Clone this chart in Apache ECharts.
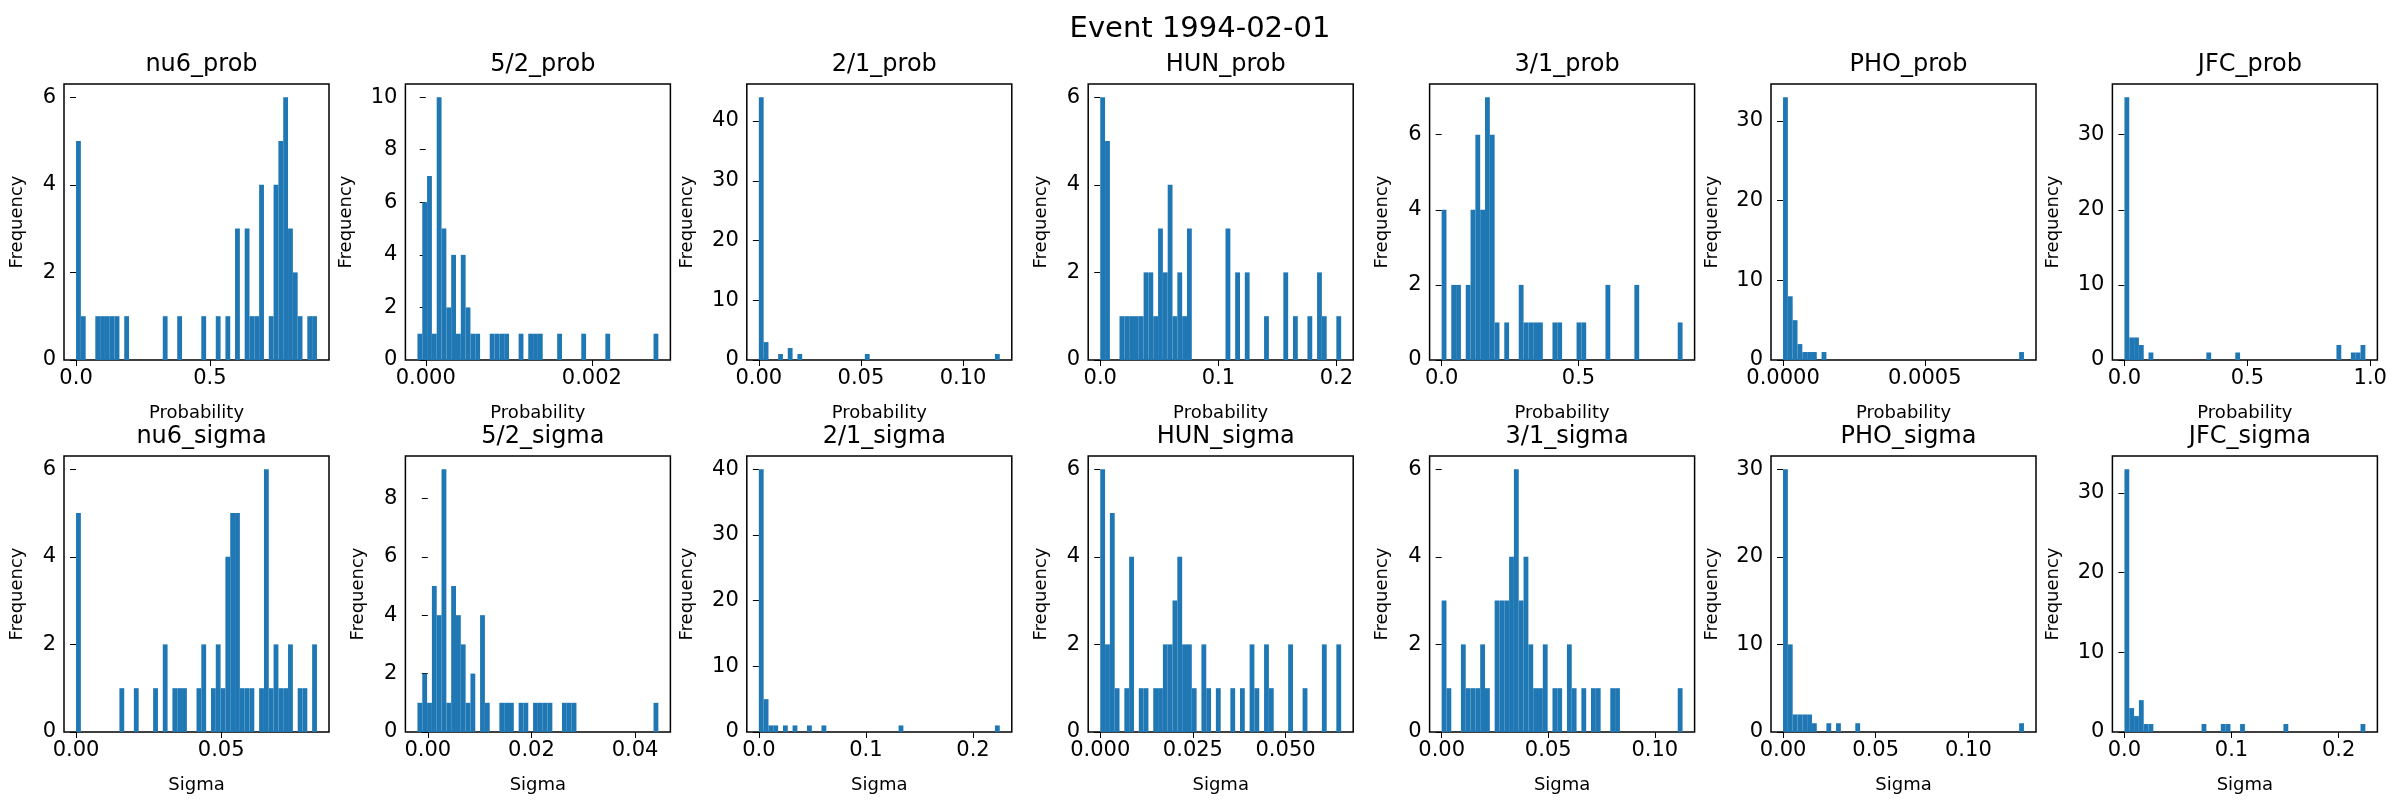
<!DOCTYPE html>
<html>
<head>
<meta charset="utf-8">
<script src="https://cdn.jsdelivr.net/npm/echarts@6/dist/echarts.min.js"></script>
<style>
  html, body { margin: 0; padding: 0; background: #fff; }
  #chart { width: 2400px; height: 800px; }
</style>
</head>
<body>
<div id="chart"></div>
<script>
// Panel names, in drawing order (top row prob, bottom row sigma)
const panelNames = ['nu6_prob', '5/2_prob', '2/1_prob', 'HUN_prob', '3/1_prob', 'PHO_prob', 'JFC_prob',
                    'nu6_sigma', '5/2_sigma', '2/1_sigma', 'HUN_sigma', '3/1_sigma', 'PHO_sigma', 'JFC_sigma'];

// Histogram bin ranges (50 bins each between lo and hi)
const binLo = [0, -0.0001, 0, 0, 0, 0, 0,   0, -0.002, 0, 0, 0, 0, 0];
const binHi = [0.9, 0.0028, 0.118, 0.204, 0.88, 0.00085, 0.98,   0.083, 0.0445, 0.225, 0.065, 0.113, 0.13, 0.225];

// Bin counts
const nu6Prob = [5,1,0,0,1,1,1,1,1,0, 1,0,0,0,0,0,0,0,1,0, 0,1,0,0,0,0,1,0,0,1, 0,1,0,3,0,3,1,1,4,0, 1,4,5,6,3,2,1,0,1,1];
const p52Prob = [1,6,7,1,10,5,2,4,1,4, 2,1,1,0,0,1,1,1,1,0, 0,1,0,1,1,1,0,0,0,1, 0,0,0,0,1,0,0,0,0,1, 0,0,0,0,0,0,0,0,0,1];
const p21Prob = [44,3,0,0,1,0,2,0,1,0, 0,0,0,0,0,0,0,0,0,0, 0,0,1,0,0,0,0,0,0,0, 0,0,0,0,0,0,0,0,0,0, 0,0,0,0,0,0,0,0,0,1];
const hunProb = [6,5,0,0,1,1,1,1,1,2, 2,1,3,2,4,1,2,1,3,0, 0,0,0,0,0,0,3,0,2,0, 2,0,0,0,1,0,0,0,2,0, 1,0,0,1,0,2,1,0,0,1];
const p31Prob = [4,0,2,2,0,2,4,6,4,7, 6,1,0,1,0,0,2,1,1,1, 1,0,0,1,1,0,0,0,1,1, 0,0,0,0,2,0,0,0,0,0, 2,0,0,0,0,0,0,0,0,1];
const phoProb = [33,8,5,2,1,1,1,0,1,0, 0,0,0,0,0,0,0,0,0,0, 0,0,0,0,0,0,0,0,0,0, 0,0,0,0,0,0,0,0,0,0, 0,0,0,0,0,0,0,0,0,1];
const jfcProb = [35,3,3,2,0,1,0,0,0,0, 0,0,0,0,0,0,0,1,0,0, 0,0,0,1,0,0,0,0,0,0, 0,0,0,0,0,0,0,0,0,0, 0,0,0,0,2,0,0,1,1,2];
const nu6Sigma = [5,0,0,0,0,0,0,0,0,1, 0,0,1,0,0,0,1,0,2,0, 1,1,1,0,0,1,2,0,1,2, 1,4,5,5,1,1,1,0,1,6, 1,2,1,1,2,0,1,1,0,2];
const p52Sigma = [1,2,1,5,4,9,1,5,4,3, 1,2,0,4,1,0,0,1,1,1, 0,1,1,0,1,1,1,1,0,0, 1,1,1,0,0,0,0,0,0,0, 0,0,0,0,0,0,0,0,0,1];
const p21Sigma = [40,5,1,1,0,1,0,1,0,0, 1,0,0,1,0,0,0,0,0,0, 0,0,0,0,0,0,0,0,0,1, 0,0,0,0,0,0,0,0,0,0, 0,0,0,0,0,0,0,0,0,1];
const hunSigma = [6,2,5,1,0,1,4,0,1,1, 0,1,1,2,2,3,4,2,2,1, 0,2,1,0,1,0,0,1,0,1, 0,2,1,0,2,1,0,0,0,2, 0,0,1,0,0,0,2,0,0,2];
const p31Sigma = [3,1,0,0,2,1,1,1,2,1, 0,3,3,3,4,6,3,4,2,1, 1,2,0,1,1,0,2,1,0,1, 0,1,1,0,0,1,1,0,0,0, 0,0,0,0,0,0,0,0,0,1];
const phoSigma = [30,10,2,2,2,2,1,0,0,1, 0,1,0,0,0,1,0,0,0,0, 0,0,0,0,0,0,0,0,0,0, 0,0,0,0,0,0,0,0,0,0, 0,0,0,0,0,0,0,0,0,1];
const jfcSigma = [33,3,2,4,1,1,0,0,0,0, 0,0,0,0,0,0,1,0,0,0, 1,1,0,0,1,0,0,0,0,0, 0,0,0,1,0,0,0,0,0,0, 0,0,0,0,0,0,0,0,0,1];

const allCounts = [nu6Prob, p52Prob, p21Prob, hunProb, p31Prob, phoProb, jfcProb,
                   nu6Sigma, p52Sigma, p21Sigma, hunSigma, p31Sigma, phoSigma, jfcSigma];

// Tick labels
const xTicks = [[0, 0.5], [0, 0.002], [0, 0.05, 0.1], [0, 0.1, 0.2], [0, 0.5], [0, 0.0005], [0, 0.5, 1],
                [0, 0.05], [0, 0.02, 0.04], [0, 0.1, 0.2], [0, 0.025, 0.05], [0, 0.05, 0.1], [0, 0.05, 0.1], [0, 0.1, 0.2]];
const xDecimals = [1, 3, 2, 1, 1, 4, 1,   2, 2, 1, 3, 2, 2, 1];
const yTicks = [[0,2,4,6], [0,2,4,6,8,10], [0,10,20,30,40], [0,2,4,6], [0,2,4,6], [0,10,20,30], [0,10,20,30],
                [0,2,4,6], [0,2,4,6,8], [0,10,20,30,40], [0,2,4,6], [0,2,4,6], [0,10,20,30], [0,10,20,30]];

const BAR = '#1f77b4';
const FONT = 'DejaVu Sans';

const chart = echarts.init(document.getElementById('chart'), null, { renderer: 'canvas' });

const grids = [], xAxes = [], yAxes = [], series = [];
const titles = [{
    text: 'Event 1994-02-01', left: 'center', top: 10,
    textStyle: { fontFamily: FONT, fontSize: 29, fontWeight: 'normal', color: '#000' }
}];

allCounts.forEach((counts, i) => {
    const row = i < 7 ? 0 : 1;
    const col = i % 7;
    const left = 64 + 341.4 * col;
    const top = row ? 456 : 84;
    const lo = binLo[i], hi = binHi[i];
    const span = hi - lo;
    const w = span / counts.length;
    const ymax = Math.max(...counts) * 1.05;

    grids.push({ left: left, top: top, width: 265, height: 276, show: true,
                 borderColor: '#000', borderWidth: 1.5, backgroundColor: 'transparent' });

    titles.push({
        text: panelNames[i], left: left + 132.5, top: top - 36, textAlign: 'center',
        textStyle: { fontFamily: FONT, fontSize: 24, fontWeight: 'normal', color: '#000' }
    });

    const dec = xDecimals[i];
    xAxes.push({
        gridIndex: i, type: 'value', min: lo - 0.05 * span, max: hi + 0.05 * span,
        splitLine: { show: false }, axisLine: { show: false },
        axisTick: { show: true, length: 6, customValues: xTicks[i], lineStyle: { color: '#000' } },
        axisLabel: { customValues: xTicks[i], formatter: v => v.toFixed(dec),
                     fontFamily: FONT, fontSize: 21, color: '#000', margin: 8 },
        name: row ? 'Sigma' : 'Probability', nameLocation: 'middle', nameGap: 44,
        nameTextStyle: { fontFamily: FONT, fontSize: 18, color: '#000' }
    });

    const twoDigit = yTicks[i][yTicks[i].length - 1] >= 10;
    yAxes.push({
        gridIndex: i, type: 'value', min: 0, max: ymax,
        splitLine: { show: false }, axisLine: { show: false },
        axisTick: { show: true, length: 6, customValues: yTicks[i], lineStyle: { color: '#000' } },
        axisLabel: { customValues: yTicks[i], fontFamily: FONT, fontSize: 21, color: '#000', margin: 8 },
        name: 'Frequency', nameLocation: 'middle', nameGap: twoDigit ? 50 : 38,
        nameTextStyle: { fontFamily: FONT, fontSize: 18, color: '#000' }
    });

    const data = [];
    counts.forEach((c, k) => {
        if (c > 0) data.push([lo + k * w, lo + (k + 1) * w, c]);
    });

    series.push({
        type: 'custom', xAxisIndex: i, yAxisIndex: i, data: data,
        encode: { x: [0, 1], y: 2 },
        renderItem: (params, api) => {
            const p0 = api.coord([api.value(0), 0]);
            const p1 = api.coord([api.value(1), api.value(2)]);
            return {
                type: 'rect',
                shape: { x: p0[0], y: p1[1], width: p1[0] - p0[0], height: p0[1] - p1[1] },
                style: { fill: BAR }
            };
        }
    });
});

chart.setOption({
    backgroundColor: '#fff',
    animation: false,
    title: titles,
    grid: grids,
    xAxis: xAxes,
    yAxis: yAxes,
    series: series
});
</script>
</body>
</html>
